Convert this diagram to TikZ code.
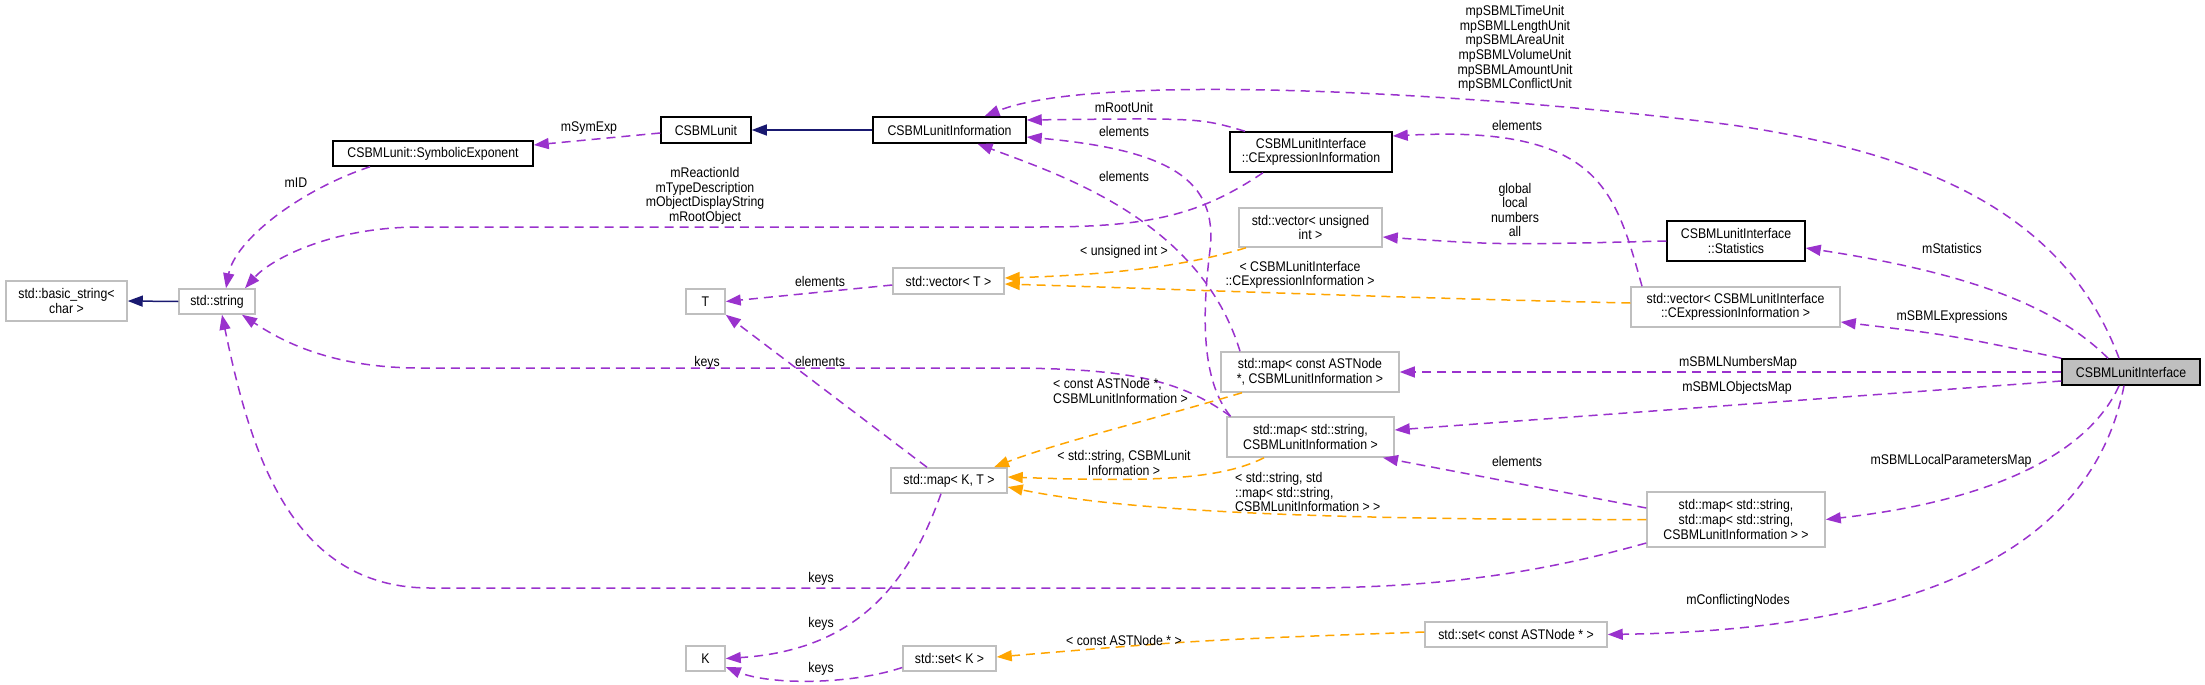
\documentclass[tikz,border=0pt]{standalone}
\usepackage{fontspec}
\setmainfont{Liberation Sans}[FakeStretch=0.88]
\usetikzlibrary{arrows.meta}
\definecolor{edgepurple}{HTML}{9A32CD}
\definecolor{edgeorange}{HTML}{FFA500}
\definecolor{edgeblue}{HTML}{191970}
\definecolor{boxgray}{HTML}{BFBFBF}
\begin{document}
\begin{tikzpicture}[x=1pt,y=-1pt,
  font=\fontsize{14}{14.6}\selectfont,
  base/.style={rectangle, inner sep=0pt, align=center, line width=1.5pt},
  docbox/.style={base, draw=black},
  undocbox/.style={base, draw=boxgray},
  mainbox/.style={base, draw=black, fill=boxgray},
  member/.style={-{Triangle[length=15pt,width=11pt]}, color=edgepurple, line width=1.5pt, dash pattern=on 9pt off 6pt},
  templ/.style={-{Triangle[length=15pt,width=11pt]}, color=edgeorange, line width=1.5pt, dash pattern=on 9pt off 6pt},
  inherit/.style={-{Triangle[length=15pt,width=11pt]}, color=edgeblue, line width=1.5pt},
  lbl/.style={inner sep=0pt, align=center},
  lbll/.style={inner sep=0pt, align=left, anchor=west}]
\useasboundingbox (0,0) rectangle (2205,685);
% nodes
\node[undocbox, minimum width=121pt, minimum height=40pt] (bstr) at (66.5,301) {std::basic\_string<\\char >};
\node[undocbox, minimum width=76pt, minimum height=25pt] (str) at (217,301.5) {std::string};
\node[docbox, minimum width=200pt, minimum height=25pt] (symexp) at (433,153.5) {CSBMLunit::SymbolicExponent};
\node[docbox, minimum width=90pt, minimum height=26pt] (unit) at (706,130) {CSBMLunit};
\node[docbox, minimum width=153pt, minimum height=26pt] (uinfo) at (949.5,130) {CSBMLunitInformation};
\node[docbox, minimum width=162pt, minimum height=40pt] (cexpr) at (1311,152) {CSBMLunitInterface\\::CExpressionInformation};
\node[undocbox, minimum width=143pt, minimum height=39pt] (vui) at (1310.5,227.5) {std::vector< unsigned\\int >};
\node[docbox, minimum width=138pt, minimum height=40pt] (stat) at (1736,241) {CSBMLunitInterface\\::Statistics};
\node[undocbox, minimum width=39pt, minimum height=25pt] (T) at (705.5,301.5) {T};
\node[undocbox, minimum width=111pt, minimum height=26pt] (vT) at (948.5,281) {std::vector< T >};
\node[undocbox, minimum width=209pt, minimum height=40pt] (vcexpr) at (1735.5,307) {std::vector< CSBMLunitInterface\\::CExpressionInformation >};
\node[undocbox, minimum width=178pt, minimum height=40pt] (mast) at (1310,372) {std::map< const ASTNode\\*, CSBMLunitInformation >};
\node[undocbox, minimum width=167pt, minimum height=40pt] (msc) at (1310.5,437) {std::map< std::string,\\CSBMLunitInformation >};
\node[mainbox, minimum width=138pt, minimum height=26pt] (iface) at (2131,372) {CSBMLunitInterface};
\node[undocbox, minimum width=116pt, minimum height=25pt] (mKT) at (949,480.5) {std::map< K, T >};
\node[undocbox, minimum width=178pt, minimum height=55pt] (mss) at (1736,519.5) {std::map< std::string,\\std::map< std::string,\\CSBMLunitInformation > >};
\node[undocbox, minimum width=182pt, minimum height=25pt] (sast) at (1516,634.5) {std::set< const ASTNode * >};
\node[undocbox, minimum width=39pt, minimum height=25pt] (K) at (705.5,658.5) {K};
\node[undocbox, minimum width=93pt, minimum height=25pt] (sK) at (949.5,658.5) {std::set< K >};
% inheritance
\draw[inherit] (str.west) -- (bstr.east);
\draw[inherit] (uinfo.west) -- (unit.east);
% members
\draw[member] ([xshift=-63pt]symexp.south) .. controls (300,190) and (235,240) .. ([xshift=9pt]str.north);
\node[lbl] (lmid) at (296,183) {mID};
\draw[member] ([yshift=-3pt]unit.west) -- ([yshift=8.5pt]symexp.east);
\node[lbl] (lsym) at (589,128) {mSymExp};
\draw[member] ([xshift=-48pt]cexpr.south) .. controls (1200,215) and (1150,227) .. (1040,227) -- (420,227) .. controls (330,227) and (270,260) .. ([xshift=28pt]str.north);
\node[lbl] (lreac) at (705,196) {mReactionId\\mTypeDescription\\mObjectDisplayString\\mRootObject};
\draw[member] ([xshift=-66pt]cexpr.north) .. controls (1200,118) .. ([yshift=10pt]uinfo.east);
\node[lbl] (lroot) at (1124,107) {mRootUnit};
\draw[member] ([xshift=-80pt]msc.north) .. controls (1205,385) and (1200,330) .. (1210,250) .. controls (1218,180) and (1170,150) .. ([yshift=-7pt]uinfo.east);
\node[lbl] (lel1) at (1124,131) {elements};
\draw[member] ([xshift=-70pt]mast.north) .. controls (1200,220) and (1060,175) .. ([xshift=28pt]uinfo.south);
\node[lbl] (lel2) at (1124,176) {elements};
\draw[member] ([xshift=-12pt]iface.north) .. controls (2060,200) and (1900,150) .. (1732,125) .. controls (1500,95) and (1100,70) .. ([xshift=35pt]uinfo.north);
\node[lbl] (lmp) at (1515,48.5) {mpSBMLTimeUnit\\mpSBMLLengthUnit\\mpSBMLAreaUnit\\mpSBMLVolumeUnit\\mpSBMLAmountUnit\\mpSBMLConflictUnit};
\draw[member] ([xshift=-93.5pt]vcexpr.north) .. controls (1615,190) and (1600,125) .. ([yshift=16pt]cexpr.east);
\node[lbl] (lel3) at (1517,125) {elements};
\draw[member] (stat.west) .. controls (1500,245) .. ([yshift=-9.5pt]vui.east);
\node[lbl] (lglob) at (1515,210) {global\\local\\numbers\\all};
\draw[member] ([xshift=-23pt]iface.north) .. controls (2050,300) and (1950,270) .. ([yshift=-7pt]stat.east);
\node[lbl] (lstat) at (1952,248) {mStatistics};
\draw[member] (iface.north west) .. controls (1950,335) .. ([yshift=-15pt]vcexpr.east);
\node[lbl] (lexpr) at (1952,317) {mSBMLExpressions};
\draw[member] (iface.west) -- (mast.east);
\node[lbl] (lnum) at (1738,363) {mSBMLNumbersMap};
\draw[member] ([yshift=-9pt]iface.west) -- ([yshift=7pt]msc.east);
\node[lbl] (lobj) at (1737,388) {mSBMLObjectsMap};
\draw[member] ([xshift=-12pt]iface.south) .. controls (2090,450) and (2000,500) .. (mss.east);
\node[lbl] (lloc) at (1951,461) {mSBMLLocalParametersMap};
\draw[member] ([xshift=-7pt]iface.south) .. controls (2090,560) and (1900,630) .. (sast.east);
\node[lbl] (lconf) at (1738,601) {mConflictingNodes};
\draw[member] ([yshift=11.5pt]mss.west) .. controls (1500,480) .. ([xshift=72.5pt]msc.south);
\node[lbl] (lel4) at (1517,461) {elements};
\draw[member] ([yshift=-23.5pt]mss.west) .. controls (1550,570) and (1450,588) .. (1300,588) -- (430,588) .. controls (290,588) and (250,450) .. ([xshift=5pt]str.south);
\node[lbl] (lkey1) at (821,579) {keys};
\draw[member] ([xshift=-80pt]msc.north) .. controls (1180,380) and (1130,368) .. (1000,368) -- (420,368) .. controls (330,368) and (280,340) .. ([xshift=25pt]str.south);
\node[lbl] (lkey2) at (707,363) {keys};
\draw[member] ([xshift=-22pt]mKT.north) -- (T.south east);
\node[lbl] (lel5) at (820,361) {elements};
\draw[member] ([yshift=-4pt]vT.west) -- (T.east);
\node[lbl] (lel6) at (820,281) {elements};
\draw[member] ([xshift=-8pt]mKT.south) .. controls (910,580) and (860,650) .. (K.east);
\node[lbl] (lkey3) at (821,624) {keys};
\draw[member] ([yshift=-9pt]sK.west) .. controls (850,685) and (770,685) .. ([yshift=-8.5pt]K.east);
\node[lbl] (lkey4) at (821,669) {keys};
% template instances
\draw[templ] ([xshift=-64.5pt]vui.south) .. controls (1180,268) and (1100,275) .. ([yshift=3pt]vT.east);
\node[lbl] (lt1) at (1124,252) {< unsigned int >};
\draw[templ] ([yshift=4pt]vcexpr.west) .. controls (1400,298) and (1200,290) .. ([yshift=-3pt]vT.east);
\node[lbl] (lt2) at (1300,275) {< CSBMLunitInterface\\::CExpressionInformation >};
\draw[templ] ([xshift=-68pt]mast.south) .. controls (1150,420) and (1050,445) .. ([xshift=45pt]mKT.north);
\node[lbll] (lt3) at (1053,391) {< const ASTNode *,\\CSBMLunitInformation >};
\draw[templ] ([xshift=-46.5pt]msc.south) .. controls (1220,480) and (1150,482) .. ([yshift=3.5pt]mKT.east);
\node[lbl] (lt4) at (1124,463) {< std::string, CSBMLunit\\Information >};
\draw[templ] (mss.west) .. controls (1300,520) and (1120,510) .. ([yshift=-6.5pt]mKT.east);
\node[lbll] (lt5) at (1235,492) {< std::string, std\\::map< std::string,\\CSBMLunitInformation > >};
\draw[templ] ([yshift=2.5pt]sast.west) .. controls (1200,640) .. ([yshift=1.5pt]sK.east);
\node[lbl] (lt6) at (1124,640) {< const ASTNode * >};
\end{tikzpicture}
\end{document}
